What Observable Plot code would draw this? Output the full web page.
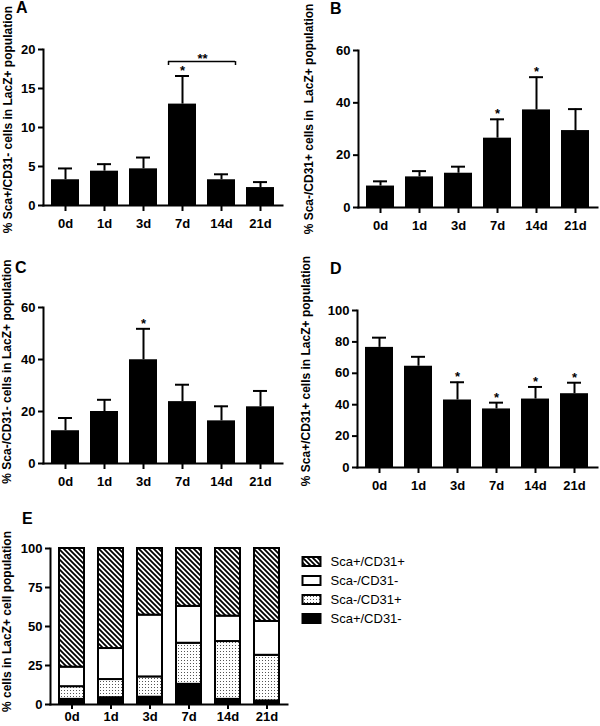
<!DOCTYPE html>
<html><head><meta charset="utf-8">
<script src="https://cdn.jsdelivr.net/npm/d3@7"></script>
<script src="https://cdn.jsdelivr.net/npm/@observablehq/plot@0.6"></script>
<style>
body{margin:0;background:#fff;font-family:"Liberation Sans",Arial,sans-serif;}
#fig{position:relative;width:600px;height:726px;overflow:hidden;background:#fff}
.panel{position:absolute}
.plabel{position:absolute;font-weight:bold;font-size:16px;line-height:16px;color:#000}
</style></head><body>
<svg width="0" height="0" style="position:absolute">
<defs>
<pattern id="hatch" patternUnits="userSpaceOnUse" width="5" height="5">
<rect width="5" height="5" fill="#fff"/>
<path d="M-1,-1L6,6M-3,2L2,7M2,-3L7,2" stroke="#000" stroke-width="1.8"/>
</pattern>
<pattern id="dots" patternUnits="userSpaceOnUse" width="3" height="3">
<rect width="3" height="3" fill="#fff"/><rect x="1" y="1" width="1" height="1" fill="#555"/>
</pattern>
</defs></svg>
<div id="fig"></div>
<script>
// ---- data ----
const days = ["0d", "1d", "3d", "7d", "14d", "21d"];
const scaPosCd31Neg    = [3.3, 4.4, 4.7, 13.0, 3.3, 2.3];
const scaPosCd31NegErr = [1.45, 0.9, 1.45, 3.6, 0.7, 0.7];
const scaNegCd31Pos    = [8.2, 11.7, 13.1, 26.5, 37.3, 29.4];
const scaNegCd31PosErr = [1.8, 2.2, 2.5, 7.2, 12.5, 8.2];
const scaNegCd31Neg    = [12.6, 20.0, 39.9, 23.8, 16.4, 21.8];
const scaNegCd31NegErr = [4.9, 4.5, 11.9, 6.5, 5.6, 6.1];
const scaPosCd31Pos    = [76.5, 64.5, 43.0, 37.3, 43.6, 47.0];
const scaPosCd31PosErr = [6.2, 6.0, 11.3, 4.0, 7.7, 7.0];
const starsA = ["7d"];
const starsB = ["7d", "14d"];
const starsC = ["3d"];
const starsD = ["3d", "7d", "14d", "21d"];
const bracketA = [{from: "7d", to: "14d", y: 18.45, label: "**"}];
const ticksA = [0, 5, 10, 15, 20];
const ticksB = [0, 20, 40, 60];
const ticksC = [0, 20, 40, 60];
const ticksD = [0, 20, 40, 60, 80, 100];
const ticksE = [0, 25, 50, 75, 100];
const legendLabels = ["Sca+/CD31+", "Sca-/CD31-", "Sca-/CD31+", "Sca+/CD31-"];

const fig = document.getElementById("fig");
const font = "'Liberation Sans', Arial, Helvetica, sans-serif";
const baseStyle = {fontFamily: font, fontSize: "13px", fontWeight: "bold", color: "black", background: "transparent", overflow: "visible"};

function place(el, left, top) {
  el.classList.add("panel");
  el.style.left = left + "px";
  el.style.top = top + "px";
  fig.appendChild(el);
}
function panelLabel(t, left, top) {
  const d = document.createElement("div");
  d.className = "plabel"; d.textContent = t;
  d.style.left = left + "px"; d.style.top = top + "px";
  fig.appendChild(d);
}

function barPanel(o) {
  const rows = days.map((d, i) => ({day: d, mean: o.means[i], upper: o.means[i] + o.errs[i]}));
  const starRows = rows.filter(r => o.stars.includes(r.day));
  const marks = [
    Plot.barY(rows, {x: "day", y: "mean", fill: "black"}),
    Plot.ruleX(rows, {x: "day", y1: "mean", y2: "upper", strokeWidth: 2}),
    Plot.tickY(rows, {x: "day", y: "upper", strokeWidth: 2, insetLeft: 7, insetRight: 7}),
    Plot.text(starRows, {x: "day", y: "upper", text: () => "*", lineAnchor: "bottom", dy: -1, fontSize: 13}),
    Plot.frame({anchor: "left", strokeWidth: 2}),
    Plot.frame({anchor: "bottom", strokeWidth: 2}),
    Plot.axisY({ticks: o.ticks, tickSize: 5, tickPadding: 3, strokeWidth: 2, label: null}),
    Plot.axisX({tickSize: 6, tickPadding: 7, strokeWidth: 2, label: null}),
    Plot.text([o.label], {frameAnchor: "left", rotate: -90, dx: o.ldx, dy: o.ldy, fontSize: 12, textAnchor: "middle", lineAnchor: "middle"})
  ];
  if (o.bracket) {
    const b = o.bracket;
    marks.push(
      Plot.ruleY(b, {x1: "from", x2: "to", y: "y", strokeWidth: 1.5}),
      Plot.ruleX(b, {x: "from", y1: "y", y2: d => d.y - 0.5, strokeWidth: 1.5, dx: -14}),
      Plot.ruleX(b, {x: "to", y1: "y", y2: d => d.y - 0.5, strokeWidth: 1.5, dx: 14}),
      Plot.text(b, {x: "from", y: "y", text: "label", dx: 20, dy: 1, lineAnchor: "bottom", fontSize: 13})
    );
  }
  return Plot.plot({
    width: 300, height: 240,
    marginLeft: o.ml, marginRight: o.mr, marginTop: o.mt, marginBottom: o.mb,
    x: {domain: days, paddingInner: 0.28, paddingOuter: 0.165},
    y: {domain: [0, o.yMax]},
    style: baseStyle,
    marks
  });
}

place(barPanel({means: scaPosCd31Neg, errs: scaPosCd31NegErr, stars: starsA, yMax: 20, ticks: ticksA,
  label: "% Sca+/CD31- cells in LacZ+ population", ml: 43, mr: 18, mt: 49, mb: 35, ldx: -35, ldy: -8, bracket: bracketA}), 0, 0);
place(barPanel({means: scaNegCd31Pos, errs: scaNegCd31PosErr, stars: starsB, yMax: 60, ticks: ticksB,
  label: "% Sca-/CD31+ cells in  LacZ+ population", ml: 58, mr: 3, mt: 50, mb: 33, ldx: -49, ldy: -10}), 300, 0);
place(barPanel({means: scaNegCd31Neg, errs: scaNegCd31NegErr, stars: starsC, yMax: 60, ticks: ticksC,
  label: "% Sca-/CD31- cells in LacZ+ population", ml: 43, mr: 18, mt: 57, mb: 27, ldx: -36, ldy: -14}), 0, 250);
place(barPanel({means: scaPosCd31Pos, errs: scaPosCd31PosErr, stars: starsD, yMax: 100, ticks: ticksD,
  label: "% Sca+/CD31+ cells in LacZ+ population", ml: 57, mr: 3, mt: 60, mb: 23, ldx: -51, ldy: -18}), 300, 250);

// ---- panel E: stacked composition ----
const stackCats = [
  {name: "Sca+/CD31-", values: scaPosCd31Neg, fill: "black"},
  {name: "Sca-/CD31+", values: scaNegCd31Pos, fill: "url(#dots)"},
  {name: "Sca-/CD31-", values: scaNegCd31Neg, fill: "white"},
  {name: "Sca+/CD31+", values: scaPosCd31Pos, fill: "url(#hatch)"}
];
const fillOf = Object.fromEntries(stackCats.map(c => [c.name, c.fill]));
const stackRows = [];
days.forEach((d, i) => stackCats.forEach(c => stackRows.push({day: d, cat: c.name, value: c.values[i]})));

const plotE = Plot.plot({
  width: 300, height: 226,
  marginLeft: 50, marginRight: 13, marginTop: 48, marginBottom: 22,
  x: {domain: days, paddingInner: 0.36, paddingOuter: 0.18},
  y: {domain: [0, 1]},
  color: {type: "identity"},
  style: baseStyle,
  marks: [
    Plot.barY(stackRows, Plot.stackY({offset: "normalize", x: "day", y: "value", fill: d => fillOf[d.cat], stroke: "black", strokeWidth: 2})),
    Plot.frame({anchor: "left", strokeWidth: 2}),
    Plot.frame({anchor: "bottom", strokeWidth: 2}),
    Plot.axisY({ticks: ticksE.map(t => t / 100), tickFormat: d => String(Math.round(d * 100)), tickSize: 5, tickPadding: 3, strokeWidth: 2, label: null}),
    Plot.axisX({tickSize: 5, tickPadding: 2, strokeWidth: 2, label: null}),
    Plot.text(["% cells in LacZ+ cell population"], {frameAnchor: "left", rotate: -90, dx: -43, dy: -5, fontSize: 12, textAnchor: "middle", lineAnchor: "middle"})
  ]
});
place(plotE, 0, 500);

// ---- legend ----
const legendFill = {"Sca+/CD31+": "url(#hatch)", "Sca-/CD31-": "white", "Sca-/CD31+": "url(#dots)", "Sca+/CD31-": "black"};
const legend = Plot.plot({
  width: 120, height: 80,
  marginLeft: 2.5, marginRight: 99.5, marginTop: 1.25, marginBottom: 0.75,
  x: {domain: [0, 1], axis: null},
  y: {domain: legendLabels, padding: 0, axis: null},
  color: {type: "identity"},
  style: {...baseStyle, fontWeight: "normal"},
  marks: [
    Plot.barX(legendLabels, {x1: 0, x2: 1, y: d => d, fill: d => legendFill[d], stroke: "black", strokeWidth: 2, insetTop: 5, insetBottom: 5}),
    Plot.text(legendLabels, {x: 1, y: d => d, text: d => d, dx: 9.5, textAnchor: "start", lineAnchor: "middle", fontSize: 13, fontWeight: "normal"})
  ]
});
place(legend, 300, 550);

panelLabel("A", 16, 0);
panelLabel("B", 330, 1);
panelLabel("C", 15, 260);
panelLabel("D", 330, 261);
panelLabel("E", 22, 511);
</script>
</body></html>
